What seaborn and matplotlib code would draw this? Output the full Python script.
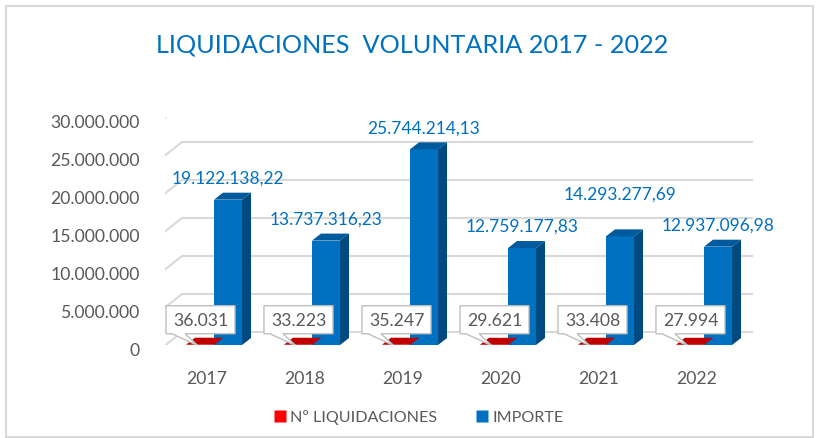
import numpy as np
import pandas as pd
import seaborn as sns
import matplotlib.pyplot as plt
from matplotlib.patches import Polygon, Rectangle
from matplotlib.lines import Line2D
from matplotlib.ticker import FixedLocator
from matplotlib.transforms import ScaledTranslation

# ---- data -------------------------------------------------------------
years = ["2017", "2018", "2019", "2020", "2021", "2022"]
num_liquidaciones = [36031, 33223, 35247, 29621, 33408, 27994]
importe = [19122138.22, 13737316.23, 25744214.13, 12759177.83, 14293277.69, 12937096.98]
series_names = ["Nº LIQUIDACIONES", "IMPORTE"]
y_ticks = [0, 5000000, 10000000, 15000000, 20000000, 25000000, 30000000]
title = "LIQUIDACIONES  VOLUNTARIA 2017 - 2022"

# vertical gap (pixels) between each importe label and its bar top;
# the 2021 label is lifted so it does not collide with its neighbours
label_lift = [22, 22, 22, 22, 43, 22]

df = pd.DataFrame({
    "Año": years * 2,
    "Serie": [series_names[0]] * len(years) + [series_names[1]] * len(years),
    "Valor": num_liquidaciones + importe,
})


def fmt_int(v):
    return f"{int(round(v)):,}".replace(",", ".")


def fmt_dec(v):
    return f"{v:,.2f}".replace(",", "X").replace(".", ",").replace("X", ".")


# ---- style ------------------------------------------------------------
sns.set_theme(style="white")
plt.rcParams["font.family"] = ["Lato", "DejaVu Sans"]

RED, RED_TOP, RED_SIDE = "#C00000", "#C00000", "#8A0000"
BLUE, BLUE_TOP, BLUE_SIDE = "#0070C0", "#005A9E", "#004A80"
GRID = "#D9D9D9"
TEXT = "#595959"
FS = 12.7

DPI = 100
W, H = 819, 439
fig = plt.figure(figsize=(W / DPI, H / DPI), dpi=DPI)
fig.patch.set_facecolor("white")

# axes = plane of the bar front faces
ax_l, ax_r, ax_b, ax_t = 165, 753, 346, 118
ax = fig.add_axes([ax_l / W, 1 - ax_b / H, (ax_r - ax_l) / W, (ax_b - ax_t) / H])
ax.set_facecolor("none")

sns.barplot(data=df, x="Año", y="Valor", hue="Serie", palette=[RED, BLUE],
            width=0.572, gap=0, saturation=1, linewidth=0, edgecolor="none",
            legend=False, ax=ax, zorder=3)

ax.set_xlim(-0.5, len(years) - 0.5)
ax.set_ylim(0, 30000000)
for s in ax.spines.values():
    s.set_visible(False)
ax.set_xlabel("")
ax.set_ylabel("")
ax.grid(False)

inv = ax.transData.inverted()


def shift(x, y, dx, dy):
    """Data point moved by (dx, dy) pixels, returned in data coords."""
    px, py = ax.transData.transform((x, y))
    return tuple(inv.transform((px + dx, py + dy)))


# depth offsets (pixels): front edge of floor/wall, back wall, bar depth
FRONT = (-7, -6)
BACK = (17, 13)
DEPTH = (9, 7)

x0_axis, x1_axis = ax.get_xlim()
for v in y_ticks:
    # back-wall gridline
    a = shift(x0_axis, v, *BACK)
    b = shift(x1_axis, v, *BACK)
    ax.add_line(Line2D([a[0], b[0]], [a[1], b[1]], color=GRID, lw=1.5, zorder=1))
    # side-wall gridline
    f = shift(x0_axis, v, *FRONT)
    ax.add_line(Line2D([f[0], a[0]], [f[1], a[1]], color=GRID, lw=1.5, zorder=1))

# 3D faces of each bar
face_cols = {RED: (RED_TOP, RED_SIDE), BLUE: (BLUE_TOP, BLUE_SIDE)}
for p in list(ax.patches):
    bx, by = p.get_x(), p.get_y()
    bw, bh = p.get_width(), p.get_height()
    fc = p.get_facecolor()
    key = RED if fc[0] > fc[2] else BLUE
    top_c, side_c = face_cols[key]
    x1, y1 = bx + bw, by + bh
    top = [(bx, y1), (x1, y1), shift(x1, y1, *DEPTH), shift(bx, y1, *DEPTH)]
    side = [(x1, by), (x1, y1), shift(x1, y1, *DEPTH), shift(x1, by, *DEPTH)]
    ax.add_patch(Polygon(top, closed=True, facecolor=top_c, edgecolor="none", zorder=3))
    ax.add_patch(Polygon(side, closed=True, facecolor=side_c, edgecolor="none", zorder=3))

# value labels
bar_w = 0.286
for i, (n, imp) in enumerate(zip(num_liquidaciones, importe)):
    # importe label above the blue bar
    ax.annotate(fmt_dec(imp), (i + bar_w / 2, imp), xytext=(0, label_lift[i]),
                textcoords="offset pixels", ha="center", va="center",
                fontsize=12.5, color=BLUE, zorder=6)
    # callout box for the count
    cx = i - bar_w / 2
    box = [(-34, 39), (35, 39), (35, 11), (-15, 11), (-2, -1), (-28, 11), (-34, 11)]
    ax.add_patch(Polygon([shift(cx, n, dx, dy) for dx, dy in box], closed=True,
                         facecolor="white", edgecolor="#BFBFBF", lw=1, zorder=5))
    ax.annotate(fmt_int(n), (cx, n), xytext=(1, 25), textcoords="offset pixels",
                ha="center", va="center", fontsize=FS, color=TEXT, zorder=6)

# ticks
ax.yaxis.set_major_locator(FixedLocator(y_ticks))
ax.set_yticklabels([fmt_int(v) for v in y_ticks])
ax.tick_params(axis="y", length=0, pad=18, labelsize=FS, labelcolor=TEXT)
ax.tick_params(axis="x", length=0, pad=18, labelsize=FS, labelcolor=TEXT)

off_y = ScaledTranslation(0, -4 / DPI, fig.dpi_scale_trans)
for lab in ax.get_yticklabels():
    lab.set_transform(lab.get_transform() + off_y)
off_x = ScaledTranslation(-7 / DPI, 0, fig.dpi_scale_trans)
for lab in ax.get_xticklabels():
    lab.set_transform(lab.get_transform() + off_x)

# title
fig.text(412 / W, 1 - 45 / H, title, ha="center", va="center",
         fontsize=18.2, color=BLUE)

# legend
handles = [Line2D([], [], marker="s", linestyle="none", markersize=9,
                  markerfacecolor=c, markeredgecolor="none")
           for c in ["#FF0000", BLUE]]
fig.legend(handles, series_names, loc="center", bbox_to_anchor=(419 / W, 1 - 418 / H),
           ncol=2, frameon=False, fontsize=11.6, labelcolor=TEXT,
           handlelength=0.7, handletextpad=0.3, columnspacing=2.4)

# chart frame
fig.add_artist(Rectangle((6 / W, 1 - 438 / H), (813 - 6) / W, (438 - 7) / H,
                         transform=fig.transFigure, fill=False,
                         edgecolor=GRID, lw=1.5))

fig.savefig("out.png", dpi=DPI)
